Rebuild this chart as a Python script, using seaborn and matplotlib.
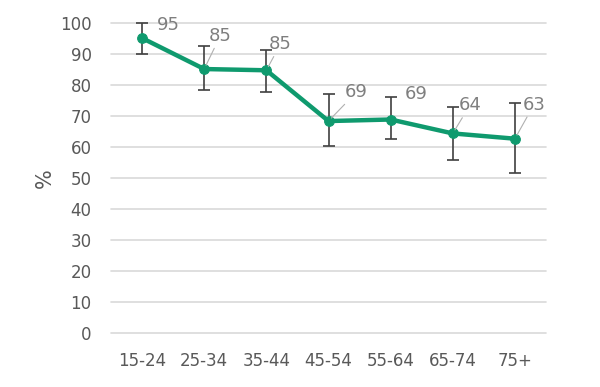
import matplotlib
matplotlib.use("Agg")
import matplotlib.pyplot as plt
import seaborn as sns
import pandas as pd

ages = ['15-24', '25-34', '35-44', '45-54', '55-64', '65-74', '75+']
values = [95.2, 85.2, 84.8, 68.4, 68.9, 64.4, 62.7]
err_low = [90.0, 78.4, 77.7, 60.3, 62.5, 55.8, 51.7]
err_high = [100.0, 92.6, 91.3, 77.1, 76.1, 73.0, 74.1]
labels = ['95', '85', '85', '69', '69', '64', '63']
# label offsets in pixels, and whether a leader line is drawn
offsets = [(26, 13), (16, 33), (14, 26), (28, 29), (26, 26), (17, 28), (19, 34)]
leaders = [False, True, True, True, False, True, True]

sns.set_style("white")
plt.rcParams['font.family'] = ['Liberation Sans Narrow', 'DejaVu Sans']

green = '#0f9a6e'
txt = '#595959'

df = pd.DataFrame({'age': ages, 'pct': values})

fig = plt.figure(figsize=(6, 3.87), dpi=100)
ax = fig.add_axes([0.185, 0.14, 0.725, 0.80])

lo = [v - l for v, l in zip(values, err_low)]
hi = [h - v for v, h in zip(values, err_high)]
ax.errorbar(range(len(ages)), values, yerr=[lo, hi], fmt='none',
            ecolor='#404040', elinewidth=1.2, capsize=4, capthick=1.2,
            zorder=3, clip_on=False)
sns.lineplot(data=df, x='age', y='pct', sort=False, color=green, lw=3.2,
             marker='o', markersize=7, markeredgecolor=green, ax=ax, zorder=4)

for i, (v, lab) in enumerate(zip(values, labels)):
    ap = dict(arrowstyle='-', color='#b0b0b0', lw=0.8, shrinkA=0, shrinkB=3) if leaders[i] else None
    ax.annotate(lab, xy=(i, v), xytext=offsets[i], textcoords='offset pixels',
                ha='center', va='center', fontsize=13, color='#7f7f7f',
                arrowprops=ap, zorder=5)

ax.set_ylim(0, 100)
ax.set_xlim(-0.5, len(ages) - 0.5)
ax.set_yticks(range(0, 101, 10))
ax.yaxis.grid(True, color='#d9d9d9', lw=1.2)
ax.xaxis.grid(False)
for gl in ax.get_ygridlines():
    gl.set_clip_on(False)
for s in ax.spines.values():
    s.set_visible(False)
ax.tick_params(axis='both', length=0, labelsize=12, colors=txt, pad=14)
ax.tick_params(axis='x', pad=14)
ax.set_xlabel('')
ax.set_ylabel('%', fontsize=15, color=txt, labelpad=4)

fig.savefig('out.png', dpi=100)
